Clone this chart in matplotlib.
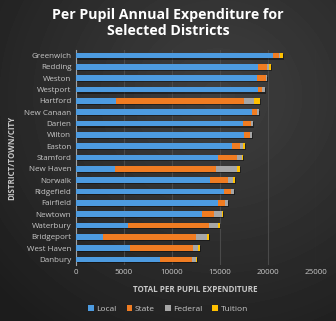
import numpy as np
import matplotlib
matplotlib.use("Agg")
import matplotlib.pyplot as plt

plt.rcParams['font.family'] = ['Open Sans', 'DejaVu Sans']

districts = ["Greenwich", "Redding", "Weston", "Westport", "Hartford", "New Canaan",
             "Darien", "Wilton", "Easton", "Stamford", "New Haven", "Norwalk",
             "Ridgefield", "Fairfield", "Newtown", "Waterbury", "Bridgeport",
             "West Haven", "Danbury"]
local = [20600, 18980, 18950, 18980, 4200, 18350, 17400, 17550, 16270, 14800,
         4150, 14000, 15470, 14800, 13200, 5430, 2830, 5710, 8800]
state = [570, 930, 870, 480, 13300, 520, 840, 630, 870, 1980,
         10490, 1910, 730, 790, 1220, 8510, 9720, 6560, 3370]
federal = [170, 250, 170, 240, 1140, 240, 270, 240, 340, 590,
           2220, 450, 310, 280, 870, 940, 1180, 520, 380]
tuition = [240, 200, 0, 0, 630, 0, 0, 0, 140, 60,
           280, 280, 0, 0, 100, 170, 210, 180, 140]

series = [("Local", local, "#4d9be0"),
          ("State", state, "#f07c22"),
          ("Federal", federal, "#a6a6a6"),
          ("Tuition", tuition, "#ffc000")]

txt = "#c8c8c8"

fig = plt.figure(figsize=(3.36, 3.21), dpi=100)

# dark radial background, lighter towards the upper middle
bg = fig.add_axes([0, 0, 1, 1], zorder=-10)
yy, xx = np.mgrid[0:1:321j, 0:1:336j]
r = np.sqrt((xx - 0.65) ** 2 + (yy - 0.3) ** 2)
shade = 0.11 + 0.14 * np.clip(1 - r / 0.9, 0, 1)
bg.imshow(shade, cmap="gray", vmin=0, vmax=1, aspect="auto",
          extent=[0, 1, 1, 0])
bg.axis("off")

ax = fig.add_axes([75.5 / 336, 1 - 265 / 321, 240 / 336, 215 / 321])
ax.set_facecolor("none")

y = np.arange(len(districts))
h = 0.5
totals = np.sum([local, state, federal, tuition], axis=0)
# bar shadow
ax.barh(y + 0.1, totals, left=100, height=h, color="black", alpha=0.4,
        zorder=2, linewidth=0)
left = np.zeros(len(districts))
for name, vals, col in series:
    ax.barh(y, vals, left=left, height=h, color=col, label=name, zorder=3,
            linewidth=0)
    left += np.array(vals)

ax.set_xlim(0, 25000)
ax.set_ylim(len(districts) - 0.5, -0.5)
ax.set_yticks(y)
ax.set_yticklabels(districts)
ax.set_xticks(np.arange(0, 25001, 5000))
ax.grid(axis="x", color="#4a4a4a", linewidth=0.8, zorder=0)
ax.tick_params(axis="both", colors=txt, labelsize=5.8, length=0, pad=3)
for s in ["top", "right", "bottom"]:
    ax.spines[s].set_visible(False)
ax.spines["left"].set_color("#a0a0a0")
ax.spines["left"].set_linewidth(0.8)

ax.set_xlabel("TOTAL PER PUPIL EXPENDITURE", color=txt, fontsize=5.8,
              fontweight="bold", labelpad=6)
ax.set_ylabel("DISTRICT/TOWN/CITY", color=txt, fontsize=5.8,
              fontweight="bold", labelpad=6)

fig.text(0.5, 1 - 23 / 321, "Per Pupil Annual Expenditure for\nSelected Districts",
         ha="center", va="center", color="white", fontsize=10.2,
         fontweight="bold", linespacing=1.1)

fig.legend(loc="center", bbox_to_anchor=(0.5, 1 - 309 / 321), ncol=4,
           frameon=False, fontsize=6, labelcolor=txt, handlelength=0.7,
           handleheight=0.7, handletextpad=0.3, columnspacing=1.2)

fig.savefig("out.png", dpi=100)
